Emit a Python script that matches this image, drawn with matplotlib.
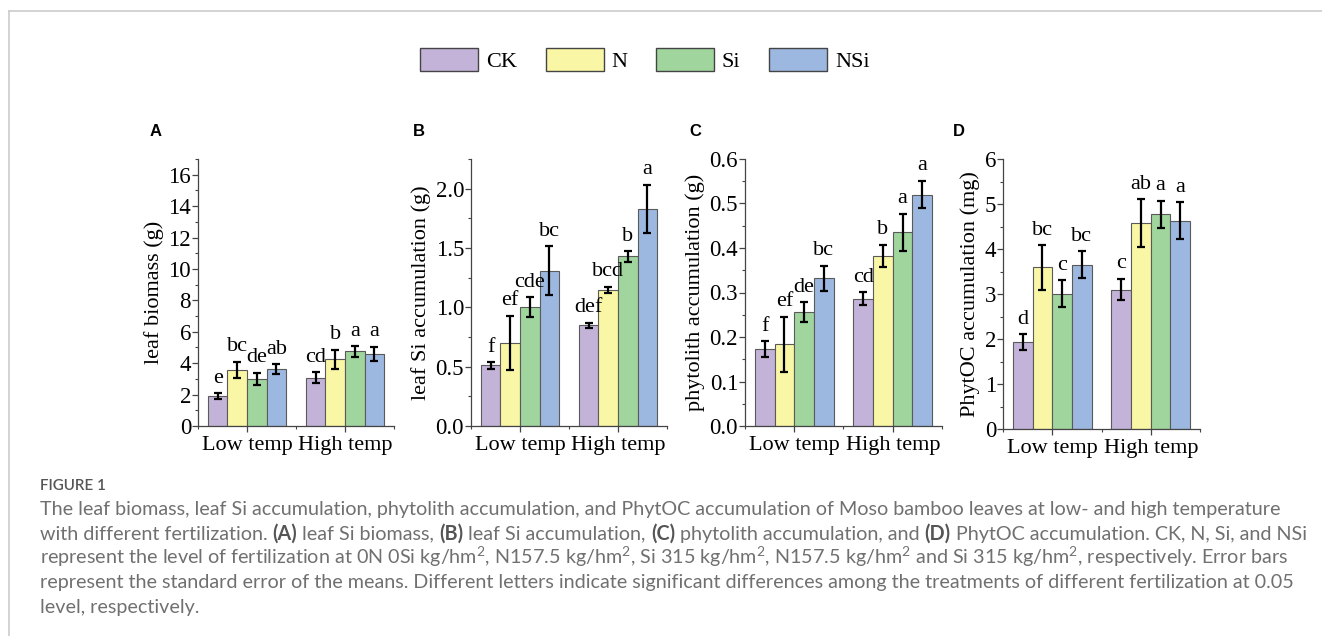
import matplotlib
matplotlib.use("Agg")
import matplotlib.pyplot as plt
import matplotlib.patches as mpatches
from matplotlib.lines import Line2D
from matplotlib.ticker import MultipleLocator, FormatStrFormatter
import numpy as np

W, H = 1322, 636
SERIF = "Liberation Serif"
CAP_FONT = "Lato"

plt.rcParams["mathtext.fontset"] = "custom"
plt.rcParams["mathtext.rm"] = CAP_FONT
plt.rcParams["mathtext.it"] = CAP_FONT

# ---- data ----
groups = ["Low temp", "High temp"]
treatments = ["CK", "N", "Si", "NSi"]
colors = ["#c4b3d8", "#f9f6a6", "#a0d59e", "#9db8e0"]

biomass_low = [1.90, 3.58, 3.00, 3.62]
biomass_high = [3.08, 4.24, 4.75, 4.60]
biomass_err_low = [0.20, 0.52, 0.40, 0.33]
biomass_err_high = [0.36, 0.62, 0.34, 0.44]
biomass_let_low = ["e", "bc", "de", "ab"]
biomass_let_high = ["cd", "b", "a", "a"]

si_low = [0.51, 0.70, 1.00, 1.31]
si_high = [0.85, 1.15, 1.43, 1.83]
si_err_low = [0.03, 0.23, 0.085, 0.205]
si_err_high = [0.02, 0.025, 0.045, 0.205]
si_let_low = ["f", "ef", "cde", "bc"]
si_let_high = ["def", "bcd", "b", "a"]

phy_low = [0.173, 0.184, 0.256, 0.332]
phy_high = [0.286, 0.382, 0.435, 0.520]
phy_err_low = [0.018, 0.062, 0.022, 0.028]
phy_err_high = [0.015, 0.025, 0.042, 0.031]
phy_let_low = ["f", "ef", "de", "bc"]
phy_let_high = ["cd", "b", "a", "a"]

poc_low = [1.93, 3.59, 3.01, 3.65]
poc_high = [3.10, 4.58, 4.77, 4.63]
poc_err_low = [0.18, 0.49, 0.30, 0.30]
poc_err_high = [0.24, 0.53, 0.30, 0.41]
poc_let_low = ["d", "bc", "c", "bc"]
poc_let_high = ["c", "ab", "a", "a"]

ylabels = ["leaf biomass (g)", "leaf Si accumulation (g)",
           "phytolith accumulation (g)", "PhytOC accumulation (mg)"]
panel_tags = ["A", "B", "C", "D"]

SQ = "kg/hm$^{2}$"
caption_title = "FIGURE 1"
caption_lines = [
    [("The leaf biomass, leaf Si accumulation, phytolith accumulation, and PhytOC "
      "accumulation of Moso bamboo leaves at low- and high temperature", False)],
    [("with different fertilization. ", False), ("(A)", True), (" leaf Si biomass, ", False),
     ("(B)", True), (" leaf Si accumulation, ", False), ("(C)", True),
     (" phytolith accumulation, and ", False), ("(D)", True),
     (" PhytOC accumulation. CK, N, Si, and NSi", False)],
    [(f"represent the level of fertilization at 0N 0Si {SQ}, N157.5 {SQ}, "
      f"Si 315 {SQ}, N157.5 {SQ} and Si 315 {SQ}, respectively. Error bars", False)],
    [("represent the standard error of the means. Different letters indicate significant "
      "differences among the treatments of different fertilization at 0.05", False)],
    [("level, respectively.", False)],
]

panels = [
    dict(low=biomass_low, high=biomass_high, elow=biomass_err_low, ehigh=biomass_err_high,
         llow=biomass_let_low, lhigh=biomass_let_high, ylim=17, major=2, minor=1, fmt="%d"),
    dict(low=si_low, high=si_high, elow=si_err_low, ehigh=si_err_high,
         llow=si_let_low, lhigh=si_let_high, ylim=2.25, major=0.5, minor=0.25, fmt="%.1f"),
    dict(low=phy_low, high=phy_high, elow=phy_err_low, ehigh=phy_err_high,
         llow=phy_let_low, lhigh=phy_let_high, ylim=0.6, major=0.1, minor=0.05, fmt="%.1f"),
    dict(low=poc_low, high=poc_high, elow=poc_err_low, ehigh=poc_err_high,
         llow=poc_let_low, lhigh=poc_let_high, ylim=6, major=1, minor=0.5, fmt="%d"),
]

# axes boxes in pixels: left, right, top, bottom
boxes = [(198, 394, 159, 426), (471, 667, 159, 426),
         (745, 942, 159, 426), (1003, 1200, 159, 429)]
tag_x = [150, 413, 689, 953]

fig = plt.figure(figsize=(W / 100, H / 100), dpi=100)
fig.patch.set_facecolor("white")

# thin page frame
fig.add_artist(Line2D([9 / W, 1], [1 - 11 / H, 1 - 11 / H], color="#cccccc", lw=1.2))
fig.add_artist(Line2D([9 / W, 9 / W], [0, 1 - 11 / H], color="#cccccc", lw=1.2))

FS = 16
width = 0.2
x = np.arange(len(groups))

for i, p in enumerate(panels):
    l, r, t, b = boxes[i]
    ax = fig.add_axes([l / W, 1 - b / H, (r - l) / W, (b - t) / H])
    means = np.array([p["low"], p["high"]])
    errs = np.array([p["elow"], p["ehigh"]])
    lets = [p["llow"], p["lhigh"]]
    for j in range(len(treatments)):
        xpos = x - 0.3 + j * width
        ax.bar(xpos, means[:, j], width, color=colors[j], edgecolor="#5a5a5a",
               linewidth=0.8, yerr=errs[:, j], capsize=3,
               error_kw=dict(elinewidth=1.6, capthick=1.6, ecolor="black"), zorder=2)
        for g in range(len(groups)):
            ax.annotate(lets[g][j], xy=(xpos[g], means[g, j] + errs[g, j]),
                        xytext=(0, 7.5), textcoords="offset points",
                        ha="center", va="baseline", fontsize=FS, family=SERIF)
    ax.set_xlim(-0.5, 1.5)
    ax.set_ylim(0, p["ylim"])
    ax.set_xticks(x)
    ax.set_xticklabels(groups, fontsize=FS, family=SERIF)
    ax.set_xticks([-0.5, 0.5, 1.5], minor=True)
    ax.yaxis.set_major_locator(MultipleLocator(p["major"]))
    ax.yaxis.set_minor_locator(MultipleLocator(p["minor"]))
    ax.yaxis.set_major_formatter(FormatStrFormatter(p["fmt"]))
    for lab in ax.get_yticklabels():
        lab.set_family(SERIF)
        lab.set_fontsize(FS + 0.5)
    ax.tick_params(axis="both", which="major", direction="out", length=4,
                   width=0.9, color="#444444", pad=1)
    ax.tick_params(axis="both", which="minor", direction="out", length=2,
                   width=0.8, color="#444444")
    ax.tick_params(axis="x", pad=3)
    for s in ["top", "right"]:
        ax.spines[s].set_visible(False)
    for s in ["left", "bottom"]:
        ax.spines[s].set_color("#444444")
        ax.spines[s].set_linewidth(0.9)
    ax.set_ylabel(ylabels[i], fontsize=FS, family=SERIF, labelpad=3)
    fig.text(tag_x[i] / W, 1 - 131 / H, panel_tags[i], fontsize=12,
             fontweight="bold", family="Liberation Sans", ha="left", va="center")

# legend
handles = [mpatches.Patch(facecolor=c, edgecolor="#444444", linewidth=1.0, label=t)
           for c, t in zip(colors, treatments)]
fig.legend(handles=handles, loc="center", bbox_to_anchor=(645 / W, 1 - 60 / H),
           ncol=4, frameon=False, prop=dict(family=SERIF, size=FS),
           handlelength=2.6, handleheight=1.25, handletextpad=0.35,
           columnspacing=1.3)

# caption
renderer = fig.canvas.get_renderer()
fig.text(40 / W, 1 - 486 / H, caption_title, fontsize=11, color="#555555",
         family=CAP_FONT, fontweight="semibold", ha="left", va="center")

# fit the caption size so the first line spans the same width as the original
probe = fig.text(0, 0, caption_lines[0][0][0], fontsize=10, family=CAP_FONT)
w10 = probe.get_window_extent(renderer).width
probe.remove()
cap_fs = 10 * (1243 / w10)


def piece_width(s, bold):
    wt = "bold" if bold else "normal"
    t1 = fig.text(0, 0, s + "|", fontsize=cap_fs, family=CAP_FONT, fontweight=wt)
    t2 = fig.text(0, 0, "|", fontsize=cap_fs, family=CAP_FONT, fontweight=wt)
    wd = t1.get_window_extent(renderer).width - t2.get_window_extent(renderer).width
    t1.remove()
    t2.remove()
    return wd


for k, line in enumerate(caption_lines):
    xp = 40
    yp = 515.5 + k * 24.3
    for s, bold in line:
        fig.text(xp / W, 1 - yp / H, s, fontsize=cap_fs, family=CAP_FONT,
                 color="#555555" if bold else "#707070",
                 fontweight="bold" if bold else "normal", ha="left", va="baseline")
        xp += piece_width(s, bold)

fig.savefig("out.png", dpi=100)
